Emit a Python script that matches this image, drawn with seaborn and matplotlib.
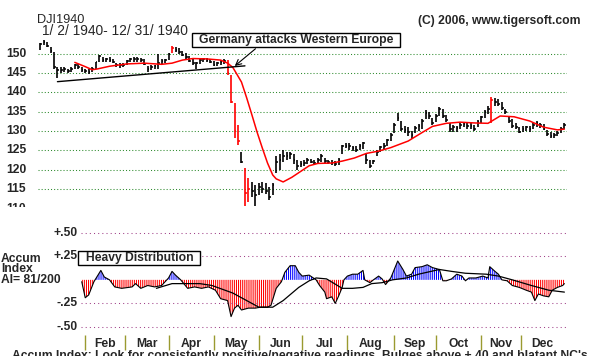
import numpy as np
import matplotlib
matplotlib.use("Agg")
import matplotlib.pyplot as plt
from matplotlib.patches import Rectangle
import seaborn as sns

# 1940 trading days per month (Mon-Sat sessions), x axis = trading day number
months = ["Jan", "Feb", "Mar", "Apr", "May", "Jun", "Jul", "Aug", "Sep", "Oct", "Nov", "Dec"]
month_days = [26, 23, 25, 26, 26, 25, 26, 27, 24, 26, 23, 25]

# price bars, every second trading day
bar_day = list(range(0, 303, 2))
highs = [152.9, 153.5, 153.2, 151.9, 150.5, 146.6, 146.6, 146.5, 146.2, 146.5,
         147.5, 147.3, 146.5, 146.2, 146.0, 146.5, 148.0, 149.8, 149.2, 149.0,
         149.1, 148.8, 147.7, 147.6, 147.6, 148.5, 149.0, 149.2, 149.2, 149.0,
         148.6, 146.8, 147.0, 147.2, 150.0, 148.6, 148.8, 150.2, 152.0, 151.8,
         151.5, 150.8, 150.2, 149.4, 148.6, 148.0, 148.8, 149.0, 149.0, 148.8,
         148.2, 148.0, 148.4, 148.6, 148.4, 144.5, 137.3, 131.5, 124.5, 120.4,
         117.8, 116.8, 116.0, 116.5, 116.8, 116.4, 115.5, 116.6, 123.5, 124.0,
         125.2, 124.5, 124.5, 124.0, 122.5, 122.2, 122.4, 123.0, 122.8, 122.6,
         123.0, 124.0, 123.0, 122.6, 122.4, 122.2, 123.0, 126.5, 127.0, 126.8,
         126.2, 126.0, 126.6, 127.2, 124.0, 122.5, 122.6, 125.0, 126.2, 126.8,
         128.0, 129.5, 132.0, 134.6, 132.5, 131.2, 131.0, 130.0, 131.2, 131.8,
         133.0, 135.5, 135.0, 133.4, 134.5, 136.2, 135.6, 134.2, 132.2, 131.6,
         131.4, 132.0, 132.4, 132.2, 132.0, 131.6, 132.8, 134.0, 135.5, 136.5,
         138.8, 138.6, 138.4, 137.6, 135.8, 134.0, 133.0, 132.0, 131.0, 131.2,
         131.4, 131.2, 132.0, 132.6, 132.2, 131.8, 130.2, 129.8, 129.6, 130.0,
         131.0, 132.0]
lows = [151.0, 152.3, 151.8, 150.2, 146.0, 143.8, 145.0, 145.2, 145.0, 145.3,
        146.2, 146.0, 145.3, 145.0, 144.9, 145.2, 146.0, 148.0, 148.0, 147.8,
        148.0, 147.6, 146.5, 146.4, 146.5, 147.0, 147.8, 148.0, 148.0, 147.9,
        147.2, 145.3, 145.8, 146.0, 146.2, 147.4, 147.6, 148.5, 150.2, 150.4,
        150.0, 149.4, 148.8, 147.8, 147.0, 146.0, 147.4, 147.8, 148.0, 147.6,
        146.8, 146.8, 147.0, 147.4, 144.5, 137.3, 128.2, 126.4, 121.7, 110.5,
        111.6, 113.0, 110.5, 113.5, 114.0, 113.6, 112.0, 113.5, 119.0, 120.0,
        122.0, 122.5, 122.8, 121.5, 120.0, 120.6, 121.0, 121.4, 121.6, 121.2,
        121.5, 122.0, 121.6, 121.4, 121.2, 121.0, 121.3, 124.0, 125.5, 125.2,
        124.8, 124.5, 125.0, 125.4, 121.5, 120.4, 121.5, 123.5, 124.5, 125.0,
        126.2, 127.5, 129.5, 132.5, 130.0, 129.6, 128.6, 128.0, 129.5, 130.0,
        130.5, 133.0, 133.2, 131.5, 132.4, 134.0, 133.5, 132.3, 129.8, 129.7,
        129.8, 130.5, 131.0, 130.6, 130.4, 130.0, 131.0, 132.0, 133.5, 134.5,
        132.0, 136.6, 136.4, 135.4, 134.4, 132.0, 130.8, 130.4, 129.4, 129.8,
        130.0, 129.8, 130.6, 131.0, 130.8, 130.2, 128.8, 128.2, 128.2, 128.6,
        129.4, 130.4]
closes = [152.5, 153.0, 152.0, 150.8, 146.5, 145.8, 145.8, 146.0, 145.6, 146.2,
          147.2, 146.6, 145.8, 145.5, 145.4, 146.2, 147.8, 149.4, 148.5, 148.6,
          148.5, 147.9, 147.0, 147.2, 147.0, 148.2, 148.7, 148.8, 148.6, 148.3,
          147.4, 146.0, 146.6, 146.8, 147.6, 148.2, 148.4, 150.0, 151.5, 151.0,
          150.6, 149.8, 149.2, 148.2, 147.6, 147.6, 148.4, 148.6, 148.5, 148.0,
          147.2, 147.6, 147.8, 148.2, 145.0, 137.5, 130.0, 127.5, 122.0, 114.0,
          115.0, 114.5, 113.5, 115.5, 115.0, 114.5, 113.0, 116.0, 122.0, 122.5,
          123.5, 123.5, 124.0, 122.5, 121.0, 121.5, 121.8, 122.5, 122.0, 121.8,
          122.4, 123.5, 122.2, 122.0, 121.6, 121.5, 122.5, 126.0, 126.2, 126.0,
          125.5, 125.0, 126.2, 126.8, 122.5, 121.0, 122.3, 124.6, 125.8, 126.2,
          127.6, 129.0, 131.5, 133.4, 130.5, 130.2, 129.8, 129.0, 130.8, 131.4,
          132.5, 134.6, 133.8, 132.0, 134.0, 135.6, 134.0, 132.8, 130.6, 131.0,
          130.8, 131.5, 131.8, 131.4, 131.2, 130.6, 132.4, 133.6, 135.0, 135.8,
          138.0, 137.5, 137.0, 136.0, 135.0, 132.6, 131.4, 131.0, 129.8, 130.6,
          131.0, 130.4, 131.6, 132.2, 131.5, 130.6, 129.2, 128.8, 129.0, 129.6,
          130.6, 131.5]
red_days = [76, 108, 110, 112, 114, 118, 120, 260]

# red moving average
ma_day = [20, 26, 30, 33, 40, 50, 60, 70, 76, 82, 88, 96, 104, 108, 111, 113,
          116, 119, 122, 125, 128, 131, 134, 136, 140, 145, 149, 155, 160, 168,
          174, 181, 188, 195, 202, 212, 220, 226, 234, 242, 250, 258, 265, 273,
          282, 290, 298, 302]
ma_val = [147.8, 146.7, 145.9, 146.1, 146.8, 147.4, 147.6, 147.3, 147.6, 148.4,
          148.8, 148.7, 148.4, 147.6, 146.5, 145.0, 142.7, 138.6, 134.2, 129.7,
          125.6, 121.7, 118.6, 117.6, 116.8, 118.0, 119.2, 121.0, 121.6, 121.7,
          122.2, 123.0, 124.2, 124.8, 125.7, 127.4, 129.6, 131.2, 132.0, 132.3,
          132.1, 132.0, 133.9, 133.7, 132.6, 131.0, 130.3, 130.5]

trend_day = [10, 118]
trend_val = [142.8, 146.9]

# accumulation index
ai_day = [24, 26, 28, 31, 35, 37, 40, 43, 47, 53, 55, 58, 62, 66, 70, 74, 76, 78,
          81, 85, 89, 93, 97, 101, 104, 108, 110, 112, 114, 116, 120, 124, 127,
          131, 133, 136, 139, 141, 144, 147, 149, 151, 155, 159, 161, 164, 165,
          168, 170, 172, 174, 175, 177, 180, 183, 186, 187, 190, 192, 195, 197,
          199, 202, 206, 209, 211, 214, 216, 220, 223, 226, 230, 232, 234, 237,
          240, 243, 245, 247, 251, 255, 258, 259, 262, 264, 266, 269, 272, 276,
          280, 283, 285, 287, 290, 293, 295, 298, 301, 302]
ai_val = [-0.02, -0.19, -0.16, -0.02, 0.10, 0.03, 0.0, -0.075, -0.09, -0.075,
          -0.04, -0.09, -0.06, -0.075, -0.06, 0.02, 0.09, 0.05,
          0.0, -0.09, -0.075, -0.09, -0.075, -0.11, -0.20, -0.22, -0.39, -0.30,
          -0.27, -0.32, -0.30, -0.30, -0.29,
          -0.29, -0.27, -0.09, -0.02, 0.08, 0.15, 0.15, 0.08, 0.04, 0.05, 0.0,
          -0.06, -0.13, -0.20,
          -0.18, -0.25, -0.17, -0.08, 0.0, 0.04, 0.06, 0.06, 0.10, 0.0, -0.03,
          0.0, 0.04, 0.01,
          -0.05, 0.02, 0.20, 0.11, 0.04, 0.06, 0.13, 0.14, 0.16, 0.13, 0.11,
          -0.01, -0.01, 0.01,
          0.06, 0.04, -0.01, 0.02, 0.02, 0.04, 0.02, 0.14, 0.09, 0.06, 0.0,
          -0.01, -0.06, -0.08,
          -0.11, -0.13, -0.22, -0.15, -0.17, -0.18, -0.11, -0.08, -0.06, -0.04]
ai_ma_day = [67, 76, 92, 99, 111, 122, 126, 134, 140, 149, 155, 159, 165, 174, 180,
             186, 191, 197, 203, 211, 218, 230, 237, 245, 257, 264, 272, 283, 293, 302]
ai_ma_val = [-0.09, -0.04, -0.04, -0.06, -0.14, -0.25, -0.29, -0.29, -0.22, -0.08,
             -0.01, 0.02, 0.01, -0.09, -0.09, -0.08, -0.04, -0.03, 0.0, 0.02,
             0.06, 0.11, 0.09, 0.07, 0.06, 0.04, 0.0, -0.06, -0.11, -0.13]

sns.set_style("white")
plt.rcParams['font.family'] = ['Liberation Sans', 'DejaVu Sans']
plt.rcParams['hatch.linewidth'] = 0.75

W, H = 607, 356
fig = plt.figure(figsize=(W / 100, H / 100), dpi=100)


def fx(px):
    return px / W


def fy(py):
    return 1 - py / H


bold = dict(fontsize=8.7, fontweight='bold')

# ---- price panel
ax = fig.add_axes([fx(38), fy(207), fx(567) - fx(38), fy(30) - fy(207)])
ax.set_xlim(-1.2, 303.5)
ax.set_ylim(110.3, 156.2)
ax.axis('off')

levels = [115, 120, 125, 130, 135, 140, 145, 150]
ax.hlines(levels, -1.2, 303.5, colors='#2e8b2e', linestyles=(0, (1, 2)), lw=0.75)
for lv in levels:
    ax.text(-8, lv, str(lv), ha='right', va='center', **bold)

cols = ['#ff0000' if d in red_days else 'black' for d in bar_day]
ax.vlines(bar_day, lows, highs, colors=cols, lw=1.2)
ax.hlines(closes, bar_day, np.array(bar_day) + 1.0, colors=cols, lw=1.1)

sns.lineplot(x=ma_day, y=ma_val, ax=ax, color='#ff0000', lw=1.1, estimator=None)
sns.lineplot(x=trend_day, y=trend_val, ax=ax, color='black', lw=1.0, estimator=None)

ax.annotate('', xy=(110.9, 146.4), xytext=(125.3, 151.8),
            arrowprops=dict(arrowstyle='->', color='black', lw=0.8))

fig.add_artist(Rectangle((fx(192), fy(47)), fx(400) - fx(192), fy(33) - fy(47),
                         transform=fig.transFigure, facecolor='white',
                         edgecolor='black', lw=1.0))
fig.text(fx(199), fy(40), "Germany attacks Western Europe", ha='left', va='center', **bold)

fig.text(fx(37), fy(20), "DJI1940", ha='left', va='center', fontsize=9.2)
fig.text(fx(42), fy(31), "1/ 2/ 1940- 12/ 31/ 1940", ha='left', va='center', fontsize=9.9)
fig.text(fx(418), fy(21), "(C) 2006, www.tigersoft.com", ha='left', va='center', **bold)

# half hidden 110 label
fig.text(fx(26), fy(209), "110", ha='right', va='center', **bold)
fig.add_artist(Rectangle((0, fy(222)), fx(37), fy(206.5) - fy(222),
                         transform=fig.transFigure, facecolor='white',
                         edgecolor='none', zorder=5))

# ---- accumulation index panel
ax2 = fig.add_axes([fx(38), fy(336.4), fx(567) - fx(38), fy(223.3) - fy(336.4)])
ax2.set_xlim(-1.2, 303.5)
ax2.set_ylim(-0.6, 0.6)
ax2.axis('off')

ax2.hlines([-0.5, -0.25, 0.25, 0.5], 23.6, 303.5, colors='#a04088',
           linestyles=(0, (1, 3)), lw=0.75)
for v, lab in [(0.5, "+.50"), (0.25, "+.25"), (-0.25, "-.25"), (-0.5, "-.50")]:
    ax2.text(21.8, v, lab, ha='right', va='center', **bold)

ai_d = np.array(ai_day)
ai_v = np.array(ai_val)
ax2.fill_between(ai_d, ai_v, 0, where=ai_v <= 0, interpolate=True,
                 facecolor='none', edgecolor='#ff0000', hatch='|' * 8, linewidth=0)
ax2.fill_between(ai_d, ai_v, 0, where=ai_v >= 0, interpolate=True,
                 facecolor='none', edgecolor='#0000ff', hatch='|' * 8, linewidth=0)
sns.lineplot(x=ai_day, y=ai_val, ax=ax2, color='black', lw=0.8, estimator=None)
sns.lineplot(x=ai_ma_day, y=ai_ma_val, ax=ax2, color='black', lw=0.9, estimator=None)

starts = np.cumsum([0] + month_days)
ax2.vlines(starts[1:12], -0.744, -0.587, colors='#9a9a30', lw=1.0, clip_on=False)
for i in range(1, 12):
    ax2.text((starts[i] + starts[i + 1]) / 2, -0.685, months[i], ha='center',
             va='center', **bold)

fig.add_artist(Rectangle((fx(78), fy(265)), fx(200) - fx(78), fy(251) - fy(265),
                         transform=fig.transFigure, facecolor='white',
                         edgecolor='black', lw=1.0))
fig.text(fx(86), fy(258), "Heavy Distribution", ha='left', va='center', **bold)

fig.text(fx(1), fy(259), "Accum", ha='left', va='center', **bold)
fig.text(fx(1), fy(269), "Index", ha='left', va='center', **bold)
fig.text(fx(1), fy(280), "AI= 81/200", ha='left', va='center', **bold)

fig.text(fx(12), fy(350), "Accum Index: Look for consistently positive/negative readings. "
         "Bulges above +.40 and blatant NC's", ha='left', va='top', **bold)

fig.savefig("out.png", dpi=100)
